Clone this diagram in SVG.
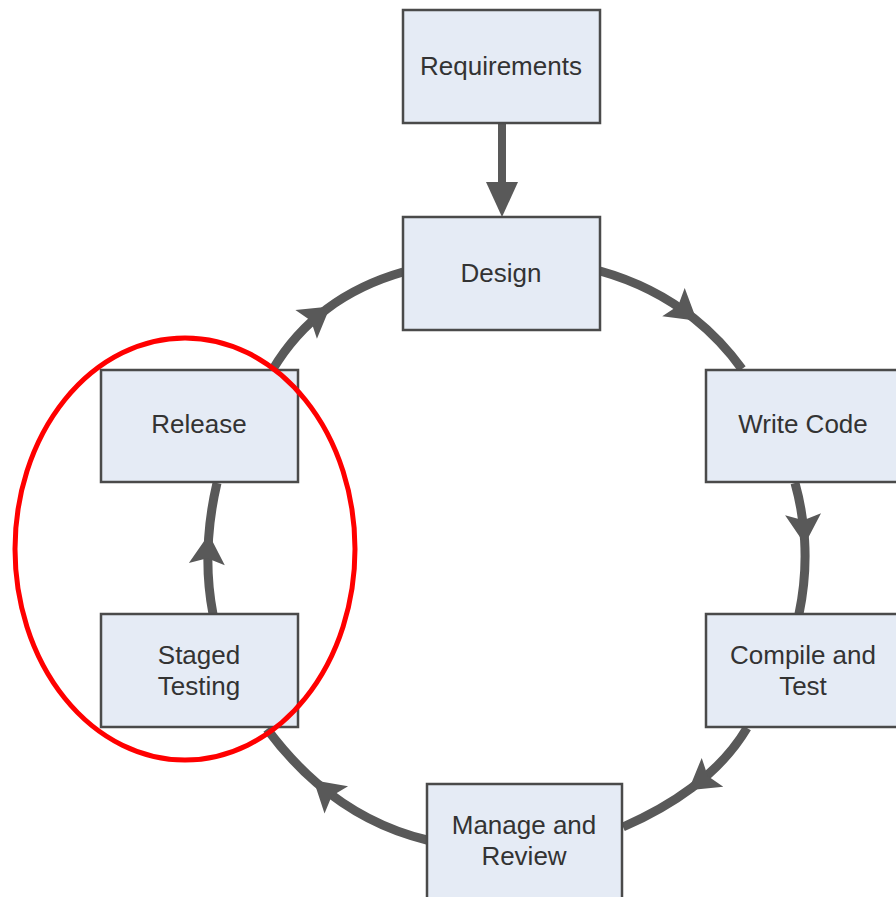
<svg xmlns="http://www.w3.org/2000/svg" width="896" height="897" viewBox="0 0 896 897">
  <style>
    .box { fill: #e5ebf5; stroke: #4a4a4a; stroke-width: 2.5; }
    .lbl { font-family: "Liberation Sans", Arial, sans-serif; font-size: 26px; fill: #333333; text-anchor: middle; }
    .arc { fill: none; stroke: #595959; stroke-width: 9; marker-mid: url(#head); }
  </style>
  <defs>
    <marker id="head" markerUnits="userSpaceOnUse" orient="auto" viewBox="-34 -22 44 44" markerWidth="44" markerHeight="44" refX="0" refY="0">
      <path d="M4,0 L-26,-18 L-20,0 L-26,18 Z" fill="#595959"/>
    </marker>
  </defs>
  <rect width="896" height="897" fill="#ffffff"/>

  <g id="connectors">
    <line x1="502" y1="124" x2="502" y2="190" stroke="#595959" stroke-width="8"/>
    <path d="M502,217 L486,182 L518,182 Z" fill="#595959"/>
    <path class="arc" d="M600,271 Q653.4,286 693.8,318.3 Q720.8,339.8 742,369"/>
    <path class="arc" d="M795,483 Q802.9,511.4 804.6,540.2 Q806.8,576.8 799,614"/>
    <path class="arc" d="M747,728 Q727.2,761.3 691.7,787.9 Q662.6,809.7 623,827"/>
    <path class="arc" d="M427,840 Q365.9,825.4 316.6,782.9 Q290.1,760 267,729"/>
    <path class="arc" d="M213,614 Q205.9,577.1 208.6,538.2 Q210.4,511.1 217,483"/>
    <path class="arc" d="M273,369 Q294.5,333 327,308.8 Q359.5,284.5 403,272"/>
  </g>

  <g id="requirements">
    <rect class="box" x="403" y="10" width="197" height="113"/>
    <text class="lbl" x="501" y="75">Requirements</text>
  </g>
  <g id="design">
    <rect class="box" x="403" y="217" width="197" height="113"/>
    <text class="lbl" x="501" y="282">Design</text>
  </g>
  <g id="write-code">
    <rect class="box" x="706" y="370" width="200" height="112"/>
    <text class="lbl" x="803" y="433">Write Code</text>
  </g>
  <g id="compile-and-test">
    <rect class="box" x="706" y="614" width="200" height="113"/>
    <text class="lbl" x="803" y="664">Compile and</text>
    <text class="lbl" x="803" y="695">Test</text>
  </g>
  <g id="manage-and-review">
    <rect class="box" x="427" y="784" width="195" height="120"/>
    <text class="lbl" x="524" y="834">Manage and</text>
    <text class="lbl" x="524" y="865">Review</text>
  </g>
  <g id="staged-testing">
    <rect class="box" x="101" y="614" width="197" height="113"/>
    <text class="lbl" x="199" y="664">Staged</text>
    <text class="lbl" x="199" y="695">Testing</text>
  </g>
  <g id="release">
    <rect class="box" x="101" y="370" width="197" height="112"/>
    <text class="lbl" x="199" y="433">Release</text>
  </g>

  <ellipse id="highlight" cx="185" cy="549" rx="170" ry="211" fill="none" stroke="#ff0000" stroke-width="5"/>
</svg>
